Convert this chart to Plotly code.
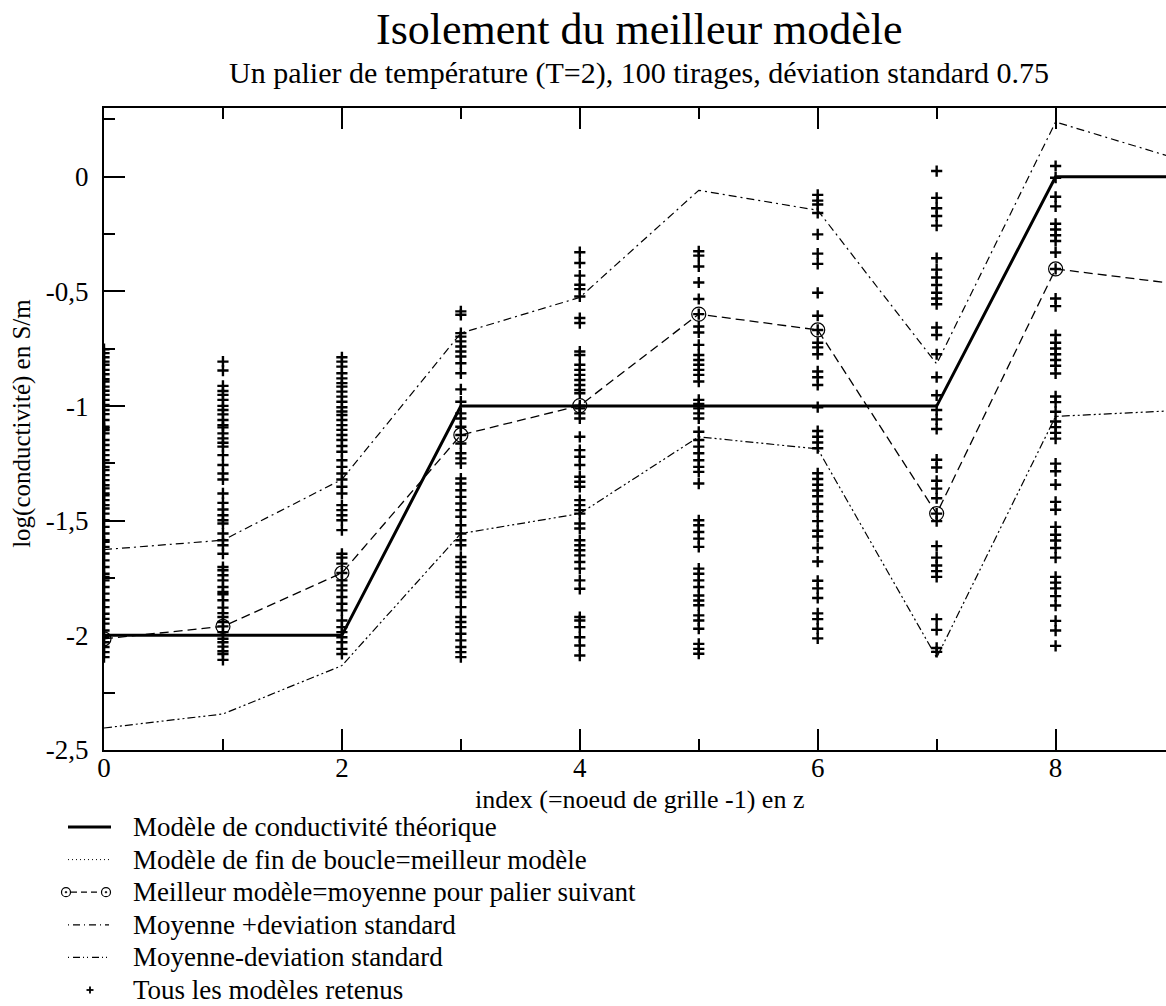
import plotly.graph_objects as go

# Grid nodes (index = grid node - 1 along z)
nodes = [0, 1, 2, 3, 4, 5, 6, 7, 8, 9]

# Theoretical conductivity model (log10 S/m)
theorique = [-2.0, -2.0, -2.0, -1.0, -1.0, -1.0, -1.0, -1.0, 0.0, 0.0]

# Best model = mean used for the next temperature step
meilleur = [-2.015, -1.961, -1.728, -1.126, -0.998, -0.599, -0.668, -1.469, -0.402, -0.466]

# Mean + / - standard deviation
moy_plus = [-1.626, -1.585, -1.320, -0.682, -0.526, -0.059, -0.146, -0.816, 0.239, 0.082]
moy_moins = [-2.404, -2.343, -2.132, -1.556, -1.469, -1.134, -1.187, -2.097, -1.045, -1.020]

# Retained models, one list per grid node
retenus_0 = [-0.752, -0.769, -0.787, -0.806, -0.820, -0.842, -0.861, -0.883, -0.893, -0.915,
             -0.933, -0.951, -0.973, -0.995, -1.017, -1.035, -1.061, -1.090, -1.097, -1.105,
             -1.119, -1.148, -1.170, -1.192, -1.214, -1.236, -1.265, -1.279, -1.301, -1.323,
             -1.345, -1.359, -1.381, -1.389, -1.410, -1.432, -1.447, -1.469, -1.498, -1.527,
             -1.556, -1.585, -1.592, -1.614, -1.643, -1.673, -1.702, -1.731, -1.745, -1.760,
             -1.789, -1.818, -1.847, -1.877, -1.906, -1.928, -1.949, -1.979, -2.008, -2.030,
             -2.051, -2.073, -2.095]
retenus_1 = [-0.806, -0.845, -0.912, -0.934, -0.951, -0.973, -0.999, -1.017, -1.036, -1.061,
             -1.083, -1.093, -1.119, -1.141, -1.160, -1.177, -1.214, -1.257, -1.294, -1.320,
             -1.381, -1.422, -1.451, -1.476, -1.498, -1.512, -1.556, -1.585, -1.607, -1.644,
             -1.702, -1.716, -1.738, -1.760, -1.789, -1.811, -1.821, -1.847, -1.879, -1.903,
             -1.920, -1.942, -1.961, -1.986, -2.015, -2.030, -2.049, -2.069, -2.081, -2.107]
retenus_2 = [-0.787, -0.806, -0.828, -0.857, -0.879, -0.900, -0.915, -0.937, -0.959, -0.981,
             -1.005, -1.024, -1.039, -1.061, -1.083, -1.104, -1.126, -1.148, -1.174, -1.199,
             -1.236, -1.265, -1.294, -1.320, -1.352, -1.381, -1.432, -1.454, -1.476, -1.498,
             -1.541, -1.644, -1.661, -1.687, -1.728, -1.760, -1.782, -1.804, -1.833, -1.862,
             -1.891, -1.935, -1.964, -1.986, -2.008, -2.030, -2.059, -2.081]
retenus_3 = [-0.587, -0.602, -0.682, -0.697, -0.718, -0.740, -0.762, -0.784, -0.813, -0.857,
             -0.927, -0.981, -1.032, -1.054, -1.090, -1.126, -1.163, -1.206, -1.228, -1.250,
             -1.316, -1.338, -1.367, -1.396, -1.425, -1.454, -1.483, -1.520, -1.556, -1.585,
             -1.607, -1.658, -1.680, -1.702, -1.731, -1.760, -1.789, -1.811, -1.833, -1.877,
             -1.920, -1.942, -1.964, -1.993, -2.022, -2.051, -2.073, -2.095]
retenus_4 = [-0.329, -0.376, -0.431, -0.471, -0.490, -0.522, -0.616, -0.638, -0.762, -0.777,
             -0.820, -0.842, -0.864, -0.886, -0.908, -0.930, -0.944, -0.998, -1.010, -1.032,
             -1.054, -1.134, -1.192, -1.221, -1.257, -1.308, -1.330, -1.352, -1.410, -1.432,
             -1.454, -1.469, -1.512, -1.534, -1.585, -1.607, -1.629, -1.651, -1.680, -1.709,
             -1.760, -1.797, -1.920, -1.935, -1.964, -2.008, -2.044, -2.088]
retenus_5 = [-0.325, -0.344, -0.391, -0.461, -0.533, -0.599, -0.653, -0.679, -0.733, -0.777,
             -0.799, -0.820, -0.842, -0.864, -0.893, -0.973, -0.991, -1.010, -1.032, -1.054,
             -1.112, -1.148, -1.177, -1.206, -1.236, -1.265, -1.287, -1.338, -1.498, -1.520,
             -1.549, -1.578, -1.614, -1.709, -1.731, -1.760, -1.789, -1.826, -1.848, -1.869,
             -1.913, -1.935, -1.971, -2.037, -2.059, -2.080]
retenus_6 = [-0.079, -0.104, -0.121, -0.158, -0.251, -0.335, -0.380, -0.506, -0.606, -0.668,
             -0.724, -0.744, -0.774, -0.849, -0.874, -0.908, -1.005, -1.109, -1.134, -1.159,
             -1.184, -1.293, -1.318, -1.343, -1.368, -1.393, -1.427, -1.460, -1.502, -1.544,
             -1.569, -1.619, -1.678, -1.762, -1.795, -1.837, -1.904, -1.929, -1.971, -2.013]
retenus_7 = [0.025, -0.092, -0.137, -0.171, -0.213, -0.355, -0.405, -0.439, -0.472, -0.506,
             -0.531, -0.556, -0.657, -0.690, -0.774, -0.874, -0.953, -1.017, -1.058, -1.100,
             -1.234, -1.268, -1.326, -1.360, -1.402, -1.469, -1.502, -1.611, -1.661, -1.695,
             -1.720, -1.745, -1.929, -1.976, -2.055, -2.072]
retenus_8 = [0.047, -0.004, -0.087, -0.129, -0.205, -0.230, -0.255, -0.280, -0.330, -0.402,
             -0.531, -0.564, -0.690, -0.724, -0.749, -0.774, -0.799, -0.824, -0.858, -0.958,
             -0.983, -1.025, -1.067, -1.092, -1.117, -1.142, -1.251, -1.284, -1.343, -1.418,
             -1.452, -1.527, -1.561, -1.586, -1.619, -1.661, -1.745, -1.770, -1.795, -1.829,
             -1.870, -1.937, -1.979, -2.046]

columns = [retenus_0, retenus_1, retenus_2, retenus_3, retenus_4,
           retenus_5, retenus_6, retenus_7, retenus_8]

# Axis ticks
x_ticks = [0, 2, 4, 6, 8]
y_ticks = [0.0, -0.5, -1.0, -1.5, -2.0, -2.5]
y_ticktext = ["0", "-0,5", "-1", "-1,5", "-2", "-2,5"]

# Legend labels
legend_labels = [
    "Modèle de conductivité théorique",
    "Modèle de fin de boucle=meilleur modèle",
    "Meilleur modèle=moyenne pour palier suivant",
    "Moyenne +deviation standard",
    "Moyenne-deviation standard",
    "Tous les modèles retenus",
]

SERIF = "Liberation Serif"
BLACK = "#000000"
DASH_BEST = "9px,5px"
DASH_PLUS = "8px,4px,2px,4px"
DASH_MOINS = "8px,3px,2px,3px,2px,3px"
DASH_DOT = "1px,3px"

# Page geometry (pixels) used to place the legend block under the axes
W, H = 1166, 1006
M_L, M_R, M_T, M_B = 104, 0, 108, 256
PLOT_W = W - M_L - M_R
PLOT_H = H - M_T - M_B


def px(x):
    return (x - M_L) / PLOT_W


def py(y):
    return (H - M_B - y) / PLOT_H


scatter_x = []
scatter_y = []
for node, vals in zip(nodes, columns):
    scatter_x += [node] * len(vals)
    scatter_y += vals

fig = go.Figure()

fig.add_trace(go.Scatter(
    x=nodes, y=theorique, mode="lines", showlegend=False,
    name=legend_labels[0],
    line=dict(color=BLACK, width=3),
))
fig.add_trace(go.Scatter(
    x=nodes, y=meilleur, mode="lines+markers", showlegend=False,
    name=legend_labels[2],
    line=dict(color=BLACK, width=1.3, dash=DASH_BEST),
    marker=dict(symbol="circle-open", size=14, color=BLACK,
                line=dict(color=BLACK, width=1.2)),
))
fig.add_trace(go.Scatter(
    x=nodes, y=moy_plus, mode="lines", showlegend=False,
    name=legend_labels[3],
    line=dict(color=BLACK, width=1.2, dash=DASH_PLUS),
))
fig.add_trace(go.Scatter(
    x=nodes, y=moy_moins, mode="lines", showlegend=False,
    name=legend_labels[4],
    line=dict(color=BLACK, width=1.2, dash=DASH_MOINS),
))
fig.add_trace(go.Scatter(
    x=scatter_x, y=scatter_y, mode="markers", showlegend=False,
    name=legend_labels[5],
    marker=dict(symbol="cross-thin", size=8, color=BLACK,
                line=dict(color=BLACK, width=2.4)),
))

fig.update_layout(
    width=W, height=H,
    margin=dict(l=M_L, r=M_R, t=M_T, b=M_B, autoexpand=False),
    paper_bgcolor="white", plot_bgcolor="white",
    font=dict(family=SERIF, color=BLACK, size=26),
    showlegend=False,
    xaxis=dict(
        range=[0, 8.928], tickvals=x_ticks, ticks="inside", ticklen=21,
        tickwidth=1.5, tickcolor=BLACK, showline=True, linewidth=2,
        linecolor=BLACK, mirror="ticks", showgrid=False, zeroline=False,
        tickfont=dict(family=SERIF, size=27), ticklabelstandoff=-7,
        minor=dict(dtick=1, ticks="inside", ticklen=11, tickwidth=1.5,
                   tickcolor=BLACK, showgrid=False),
    ),
    yaxis=dict(
        range=[-2.5, 0.3], tickvals=y_ticks, ticktext=y_ticktext,
        ticks="inside", ticklen=21, tickwidth=1.5, tickcolor=BLACK,
        showline=True, linewidth=2, linecolor=BLACK, showgrid=False,
        zeroline=False, tickfont=dict(family=SERIF, size=27),
        ticklabelstandoff=8,
        minor=dict(dtick=0.25, ticks="inside", ticklen=11, tickwidth=1.5,
                   tickcolor=BLACK, showgrid=False),
    ),
    yaxis2=dict(
        overlaying="y", side="right", range=[-2.5, 0.3], tickvals=y_ticks,
        ticks="inside", ticklen=13, tickwidth=1.5, tickcolor=BLACK,
        showticklabels=False, showline=False, showgrid=False, zeroline=False,
        minor=dict(dtick=0.25, ticks="inside", ticklen=3, tickwidth=1.5,
                   tickcolor=BLACK, showgrid=False),
    ),
)

# Titles
fig.add_annotation(
    text="Isolement du meilleur modèle", x=4.5, xref="x", y=1.123, yref="paper",
    xanchor="center", yanchor="middle", showarrow=False,
    font=dict(family=SERIF, size=44, color=BLACK),
)
fig.add_annotation(
    text="Un palier de température (T=2), 100 tirages, déviation standard 0.75",
    x=4.5, xref="x", y=1.0545, yref="paper",
    xanchor="center", yanchor="middle", showarrow=False,
    font=dict(family=SERIF, size=30, color=BLACK),
)
fig.add_annotation(
    text="index (=noeud de grille -1) en z", x=4.5, xref="x", y=py(799), yref="paper",
    xanchor="center", yanchor="middle", showarrow=False,
    font=dict(family=SERIF, size=26, color=BLACK),
)
fig.add_annotation(
    text="log(conductivité) en S/m", x=px(22), xref="paper", y=0.508, yref="paper",
    xanchor="center", yanchor="middle", showarrow=False, textangle=-90,
    font=dict(family=SERIF, size=25, color=BLACK),
)

# Legend block below the axes
row_y = [827 + 32.6 * i for i in range(len(legend_labels))]
for label, yy in zip(legend_labels, row_y):
    fig.add_annotation(
        text=label, x=px(131), xref="paper", y=py(yy), yref="paper",
        xanchor="left", yanchor="middle", showarrow=False,
        font=dict(family=SERIF, size=27, color=BLACK),
    )

shapes = []


def seg(x0, x1, yy, width, dash="solid"):
    shapes.append(dict(type="line", xref="paper", yref="paper",
                       x0=px(x0), x1=px(x1), y0=py(yy), y1=py(yy),
                       line=dict(color=BLACK, width=width, dash=dash)))


seg(68, 111, row_y[0], 3)
seg(68, 109, row_y[1], 1, DASH_DOT)
seg(71, 102, row_y[2], 1.3, "6px,4px")
for cx in (66, 106):
    r = 4.5
    shapes.append(dict(type="circle", xref="paper", yref="paper",
                       x0=px(cx - r), x1=px(cx + r), y0=py(row_y[2] + r), y1=py(row_y[2] - r),
                       line=dict(color=BLACK, width=1.2)))
    shapes.append(dict(type="circle", xref="paper", yref="paper",
                       x0=px(cx - 0.9), x1=px(cx + 0.9), y0=py(row_y[2] + 0.9), y1=py(row_y[2] - 0.9),
                       fillcolor=BLACK, line=dict(color=BLACK, width=0.5)))
seg(68, 109, row_y[3], 1.2, "1px,4px,7px,4px")
seg(68, 109, row_y[4], 1.2, "1px,4px,7px,3px,1px,3px")
seg(86.5, 93.5, row_y[5], 1.8)
shapes.append(dict(type="line", xref="paper", yref="paper",
                   x0=px(90), x1=px(90), y0=py(row_y[5] - 3.5), y1=py(row_y[5] + 3.5),
                   line=dict(color=BLACK, width=1.8)))

fig.update_layout(shapes=shapes)

fig.write_html("out.html")
